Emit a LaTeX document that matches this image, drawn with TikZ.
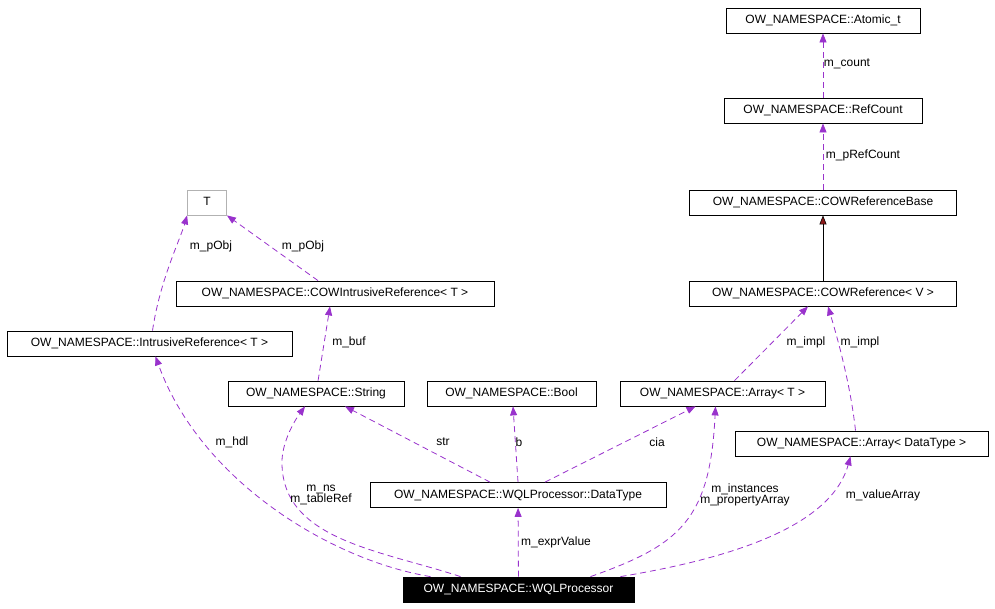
\documentclass[tikz,border=0pt]{standalone}
\usepackage{fontspec}
\setmainfont{Liberation Sans}
\usetikzlibrary{arrows.meta}
\definecolor{pur}{RGB}{153,50,204}
\definecolor{dred}{RGB}{139,26,26}
\begin{document}
\begin{tikzpicture}[x=1pt,y=-1pt,
  box/.style={draw=black,line width=0.8pt,minimum height=25pt,inner sep=0pt,font=\fontsize{12}{14}\selectfont,text height=9pt,text depth=2.5pt},
  e/.style={draw=pur,dash pattern=on 6pt off 4pt,line width=0.8pt,-{Triangle[length=9pt,width=7pt,fill=pur]}},
  lb/.style={font=\fontsize{12}{14}\selectfont,align=center,inner sep=1pt}]
\useasboundingbox (0,0) rectangle (995,608);
\node[box,minimum width=194pt] (at) at (823,20.5) {OW\_NAMESPACE::Atomic\_t};
\node[box,minimum width=198pt] (rc) at (823,110.5) {OW\_NAMESPACE::RefCount};
\node[box,minimum width=267pt] (crb) at (823,202.5) {OW\_NAMESPACE::COWReferenceBase};
\node[box,minimum width=267pt] (cr) at (823,293.5) {OW\_NAMESPACE::COWReference< V >};
\node[box,draw=gray!60,minimum width=39pt] (t) at (207,202.5) {T};
\node[box,minimum width=318pt] (cir) at (335,293.5) {OW\_NAMESPACE::COWIntrusiveReference< T >};
\node[box,minimum width=285pt] (ir) at (149.5,343.5) {OW\_NAMESPACE::IntrusiveReference< T >};
\node[box,minimum width=176pt] (str) at (316,393.5) {OW\_NAMESPACE::String};
\node[box,minimum width=169pt] (bool) at (511.5,393.5) {OW\_NAMESPACE::Bool};
\node[box,minimum width=205pt] (arr) at (722.5,393.5) {OW\_NAMESPACE::Array< T >};
\node[box,minimum width=253pt] (ard) at (861.5,443.5) {OW\_NAMESPACE::Array< DataType >};
\node[box,minimum width=296pt] (dt) at (518,495) {OW\_NAMESPACE::WQLProcessor::DataType};
\node[box,fill=black,text=white,minimum width=231pt] (w) at (518.5,589.5) {OW\_NAMESPACE::WQLProcessor};

\draw[e] (rc) -- (at);
\node[lb] at (847,64) {m\_count};
\draw[e] (crb) -- (rc);
\node[lb] at (863,155) {m\_pRefCount};
\draw[draw=black,line width=0.6pt,-{Triangle[length=9pt,width=7pt,fill=dred]}] (cr) -- (crb);
\draw[e] ([xshift=-17pt]cir.north) -- (t.south east);
\node[lb] at (303,246) {m\_pObj};
\draw[e] ([xshift=3pt]ir.north) .. controls (160,280) and (180,240) .. (t.south west);
\node[lb] at (211,246) {m\_pObj};
\draw[e] (str) -- ([xshift=-5pt]cir.south);
\node[lb] at (349,342) {m\_buf};
\draw[e] ([xshift=12pt]arr.north) -- ([xshift=-15pt]cr.south);
\node[lb] at (806,342) {m\_impl};
\draw[e] ([xshift=-6pt]ard.north) .. controls (850,380) and (835,330) .. ([xshift=5pt]cr.south);
\node[lb] at (860,342) {m\_impl};
\draw[e] ([xshift=-28pt]dt.north) -- ([xshift=29pt]str.south);
\node[lb] at (443,442) {str};
\draw[e] (dt.north) -- ([xshift=1.5pt]bool.south);
\node[lb] at (519,442) {b};
\draw[e] ([xshift=27pt]dt.north) -- ([xshift=-27pt]arr.south);
\node[lb] at (657,442) {cia};
\draw[e] (w) -- (dt);
\node[lb] at (556,542) {m\_exprValue};
\draw[e] ([xshift=-88pt]w.north) .. controls (330,560) and (200,480) .. ([xshift=6pt]ir.south);
\node[lb] at (232,442) {m\_hdl};
\draw[e] ([xshift=-58pt]w.north) .. controls (380,550) and (280,540) .. (282,460) .. controls (283,440) and (295,420) .. ([xshift=-11pt]str.south);
\node[lb] at (321,495) {m\_ns\\[-3pt]m\_tableRef};
\draw[e] ([xshift=72pt]w.north) .. controls (680,545) and (710,520) .. ([xshift=-7pt]arr.south);
\node[lb] at (745,495) {m\_instances\\[-3pt]m\_propertyArray};
\draw[e] ([xshift=102pt]w.north) .. controls (720,560) and (830,530) .. ([xshift=-11pt]ard.south);
\node[lb] at (883,495) {m\_valueArray};
\end{tikzpicture}
\end{document}
